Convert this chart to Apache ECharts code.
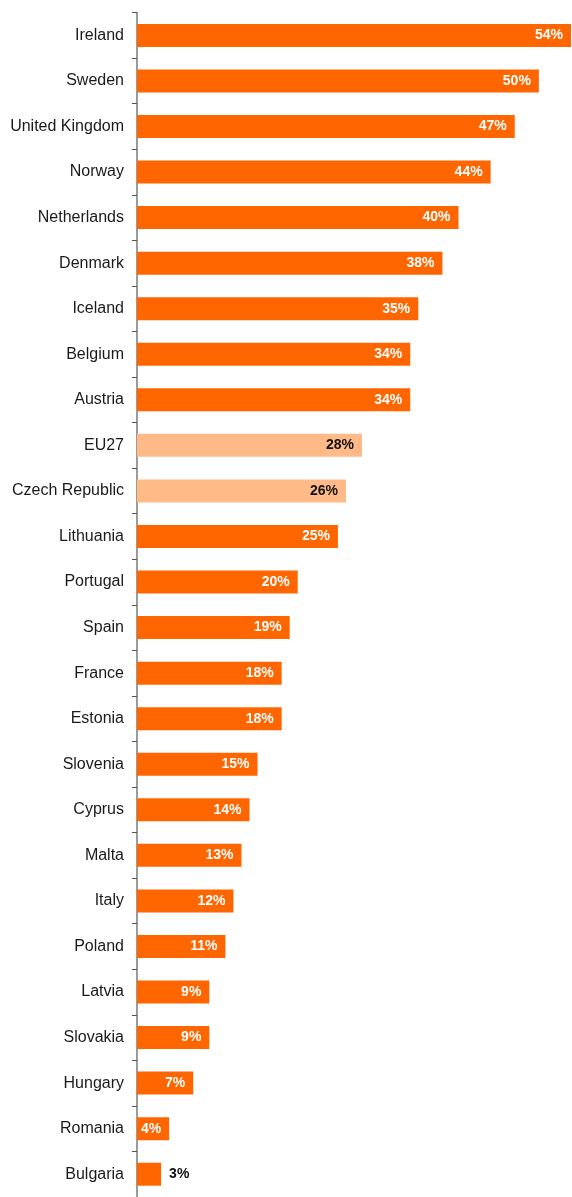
<!DOCTYPE html>
<html>
<head>
<meta charset="utf-8">
<style>
  html, body { margin: 0; padding: 0; background: #fff; }
  #chart { width: 572px; height: 1197px; }
</style>
<script src="https://cdn.jsdelivr.net/npm/echarts@6/dist/echarts.min.js"></script>
</head>
<body>
<div id="chart"></div>
<script>
// Countries, top to bottom
const countries = [
  'Ireland', 'Sweden', 'United Kingdom', 'Norway', 'Netherlands', 'Denmark',
  'Iceland', 'Belgium', 'Austria', 'EU27', 'Czech Republic', 'Lithuania',
  'Portugal', 'Spain', 'France', 'Estonia', 'Slovenia', 'Cyprus', 'Malta',
  'Italy', 'Poland', 'Latvia', 'Slovakia', 'Hungary', 'Romania', 'Bulgaria'
];
// Share in percent
const shares = [
  54, 50, 47, 44, 40, 38,
  35, 34, 34, 28, 26, 25,
  20, 19, 18, 18, 15, 14, 13,
  12, 11, 9, 9, 7, 4, 3
];
// Entries drawn in the lighter tone
const highlighted = ['EU27', 'Czech Republic'];
// Entries whose value sits outside the bar
const outsideLabels = ['Bulgaria'];

const ORANGE = '#FF6600';
const LIGHT = '#FFBA88';

const data = countries.map((name, i) => {
  const light = highlighted.includes(name);
  const outside = outsideLabels.includes(name);
  return {
    value: shares[i],
    itemStyle: { color: light ? LIGHT : ORANGE },
    label: outside
      ? { position: 'right', distance: 8, color: '#111' }
      : { position: 'insideRight', distance: 8, color: light ? '#111' : '#fff' }
  };
});

const chart = echarts.init(document.getElementById('chart'), null, { renderer: 'canvas' });
chart.setOption({
  animation: false,
  grid: { left: 137, top: 12.6, width: 434, height: 1188.5, containLabel: false },
  xAxis: {
    type: 'value', min: 0, max: 54,
    show: false
  },
  yAxis: {
    type: 'category',
    inverse: true,
    data: countries,
    axisLine: { show: true, lineStyle: { color: '#7a7a7a', width: 1.5 } },
    axisTick: { show: true, length: 5, inside: false, lineStyle: { color: '#555', width: 1 } },
    axisLabel: {
      color: '#1a1a1a',
      fontFamily: 'Liberation Sans, Arial, sans-serif',
      fontSize: 16,
      margin: 13
    }
  },
  series: [{
    type: 'bar',
    data: data,
    barWidth: 23,
    label: {
      show: true,
      formatter: p => p.value + '%',
      fontFamily: 'Liberation Sans, Arial, sans-serif',
      fontSize: 14,
      fontWeight: 'bold'
    }
  }]
});
</script>
</body>
</html>
